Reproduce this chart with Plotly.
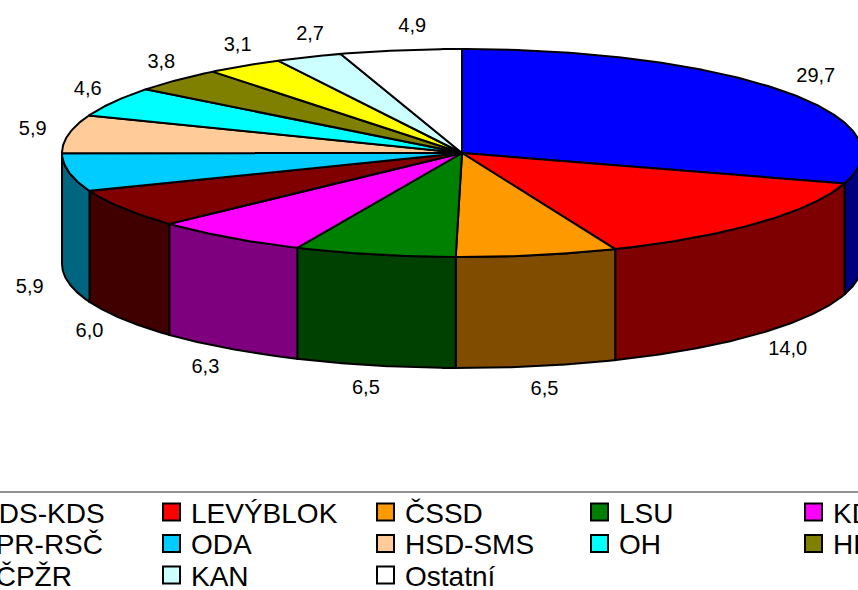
import numpy as np
import plotly.graph_objects as go

# ---- data ----
parties = ["ODS-KDS", "LEVÝBLOK", "ČSSD", "LSU", "KDU-ČSL", "SPR-RSČ", "ODA",
           "HSD-SMS", "OH", "HDŽJ", "SČPŽR", "KAN", "Ostatní"]
shares = [29.7, 14.0, 6.5, 6.5, 6.3, 6.0, 5.9, 5.9, 4.6, 3.8, 3.1, 2.7, 4.9]

# ---- styles ----
top_colors = ["#0000FF", "#FF0000", "#FF9900", "#008000", "#FF00FF", "#800000", "#00CCFF",
              "#FFCC99", "#00FFFF", "#808000", "#FFFF00", "#CCFFFF", "#FFFFFF"]
FONT = "Arial, 'Liberation Sans', sans-serif"

# ---- geometry of the 3-D pie (pixel space) ----
W, H = 858, 590
CX, CY, RX, RY, DEPTH = 462, 153, 400, 104, 111
LRX, LRY, XSHIFT = 440, 128, 18


def darker(hexcol):
    r, g, b = (int(hexcol[i:i + 2], 16) for i in (1, 3, 5))
    return "#%02X%02X%02X" % (r // 2, g // 2, b // 2)


def ell(theta):
    t = np.radians(theta)
    return CX + RX * np.sin(t), CY - RY * np.cos(t)


total = sum(shares)
bounds = np.concatenate([[0], np.cumsum(shares)]) / total * 360.0

fig = go.Figure()

# side walls (visible front half: 90..270 degrees)
for i, name in enumerate(parties):
    a, b = bounds[i], bounds[i + 1]
    lo, hi = max(a, 90.0), min(b, 270.0)
    if hi <= lo:
        continue
    th = np.linspace(lo, hi, 80)
    x, y = ell(th)
    xs = np.concatenate([x, x[::-1], x[:1]])
    ys = np.concatenate([y, y[::-1] + DEPTH, y[:1]])
    fig.add_trace(go.Scatter(x=xs, y=ys, mode="lines", fill="toself",
                             fillcolor=darker(top_colors[i]),
                             line=dict(color="black", width=2),
                             hoverinfo="skip", showlegend=False))

# top faces
for i, name in enumerate(parties):
    a, b = bounds[i], bounds[i + 1]
    th = np.linspace(a, b, max(int((b - a) * 2), 10))
    x, y = ell(th)
    xs = np.concatenate([[CX], x, [CX]])
    ys = np.concatenate([[CY], y, [CY]])
    fig.add_trace(go.Scatter(x=xs, y=ys, mode="lines", fill="toself",
                             fillcolor=top_colors[i],
                             line=dict(color="black", width=2),
                             name=name, hoverinfo="name", showlegend=False))

# data labels
mids = (bounds[:-1] + bounds[1:]) / 2
mr = np.radians(mids)
s, c = np.sin(mr), np.cos(mr)
lx = CX + LRX * s + XSHIFT * np.where((s < 0) & (c > 0), c, 0)
ly = CY - LRY * c + np.where(c < 0, DEPTH, 0)
fig.add_trace(go.Scatter(x=lx, y=ly, mode="text",
                         text=[f"{v:.1f}".replace(".", ",") for v in shares],
                         textfont=dict(family=FONT, size=20, color="black"),
                         hoverinfo="skip", showlegend=False, cliponaxis=False))

# legend (5 columns, starting partly off-canvas as in the original)
COL0, COLW, ROW0, ROWH, PER_ROW = -52, 214, 512, 31.5, 5
lgx = [COL0 + COLW * (i % PER_ROW) + 9.5 for i in range(len(parties))]
lgy = [ROW0 + ROWH * (i // PER_ROW) for i in range(len(parties))]
fig.add_trace(go.Scatter(x=lgx, y=lgy, mode="markers",
                         marker=dict(symbol="square", size=17, color=top_colors,
                                     line=dict(color="black", width=2)),
                         hoverinfo="skip", showlegend=False, cliponaxis=True))
for i, name in enumerate(parties):
    fig.add_annotation(x=(lgx[i] + 17) / W, xref="paper", y=lgy[i] + 1, yref="y",
                       text=name, showarrow=False,
                       xanchor="left", yanchor="middle",
                       font=dict(family=FONT, size=28, color="black"))

fig.add_shape(type="line", xref="paper", yref="y", x0=0, x1=1, y0=492, y1=492,
              line=dict(color="#222222", width=1))

fig.update_layout(
    width=W, height=H, margin=dict(l=0, r=0, t=0, b=0),
    paper_bgcolor="white", plot_bgcolor="white", showlegend=False,
    hovermode=False,
    xaxis=dict(range=[0, W], visible=False, fixedrange=True),
    yaxis=dict(range=[H, 0], visible=False, fixedrange=True),
)

fig.write_html("out.html", config={"displayModeBar": False},
               post_script="document.body.style.margin='0';document.body.style.overflow='hidden';")
